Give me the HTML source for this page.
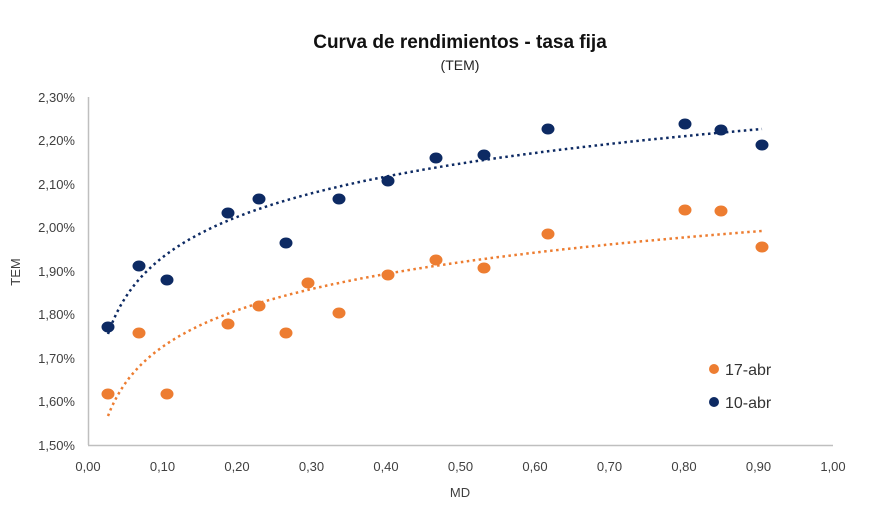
<!DOCTYPE html>
<html><head><meta charset="utf-8"><style>
body{margin:0;background:#fff;}
svg{display:block;font-family:"Liberation Sans",sans-serif;}
</style></head><body>
<svg id="s" width="871" height="506" xmlns="http://www.w3.org/2000/svg">
<rect width="871" height="506" fill="#fff"/>
<text x="460" y="48" text-anchor="middle" font-size="19" font-weight="bold" fill="#111">Curva de rendimientos - tasa fija</text>
<text x="460" y="70" text-anchor="middle" font-size="14" fill="#222">(TEM)</text>
<line x1="88.5" y1="97" x2="88.5" y2="445" stroke="#bfbfbf" stroke-width="1.5"/>
<line x1="88" y1="445.5" x2="833" y2="445.5" stroke="#bfbfbf" stroke-width="1.5"/>
<g font-size="13" fill="#404040" text-anchor="end">
<text x="75" y="102">2,30%</text><text x="75" y="145">2,20%</text><text x="75" y="189">2,10%</text><text x="75" y="232">2,00%</text><text x="75" y="276">1,90%</text><text x="75" y="319">1,80%</text><text x="75" y="363">1,70%</text><text x="75" y="406">1,60%</text><text x="75" y="450">1,50%</text>
</g>
<g font-size="13" fill="#404040" text-anchor="middle" id="xl"></g>
<text x="460" y="497" text-anchor="middle" font-size="13" fill="#404040">MD</text>
<text transform="translate(20,272) rotate(-90)" text-anchor="middle" font-size="13" fill="#404040">TEM</text>
<polyline id="tb" fill="none" stroke="#0d2a63" stroke-width="2.5" stroke-dasharray="2.5 3.5"/>
<polyline id="to" fill="none" stroke="#ed7d31" stroke-width="2.5" stroke-dasharray="2.5 3.5"/>
<g id="pts"></g>
<circle cx="714" cy="369" r="5" fill="#ed7d31"/>
<text x="725" y="375" font-size="16" fill="#333">17-abr</text>
<circle cx="714" cy="402" r="5" fill="#0d2a63"/>
<text x="725" y="408" font-size="16" fill="#333">10-abr</text>
</svg>
<script>
var ns="http://www.w3.org/2000/svg",s=document.getElementById('pts'),xl=document.getElementById('xl');
for(var i=0;i<=10;i++){var t=document.createElementNS(ns,'text');t.setAttribute('x',88+74.5*i);t.setAttribute('y',471);t.textContent=(i/10).toFixed(2).replace('.',',');xl.appendChild(t);}
var B=[[108,327],[139,266],[167,280],[228,213],[259,199],[286,243],[339,199],[388,181],[436,158],[484,155],[548,129],[685,124],[721,130],[762,145]];
var O=[[108,394],[139,333],[167,394],[228,324],[259,306],[286,333],[308,283],[339,313],[388,275],[436,260],[484,268],[548,234],[685,210],[721,211],[762,247]];
function dots(a,c){a.forEach(function(p){var e=document.createElementNS(ns,'ellipse');e.setAttribute('cx',p[0]);e.setAttribute('cy',p[1]);e.setAttribute('rx',6.5);e.setAttribute('ry',5.5);e.setAttribute('fill',c);s.appendChild(e);});}
dots(O,'#ed7d31');dots(B,'#0d2a63');
function tr(id,y0,y1){var l0=Math.log(20/745),l1=Math.log(674/745),b=(y1-y0)/(l1-l0),pts=[];for(var px=108;px<=762;px+=3){var y=y0+b*(Math.log((px-88)/745)-l0);pts.push(px+','+y.toFixed(1));}document.getElementById(id).setAttribute('points',pts.join(' '));}
tr('tb',334,129);tr('to',416,231);
</script>
</body></html>
